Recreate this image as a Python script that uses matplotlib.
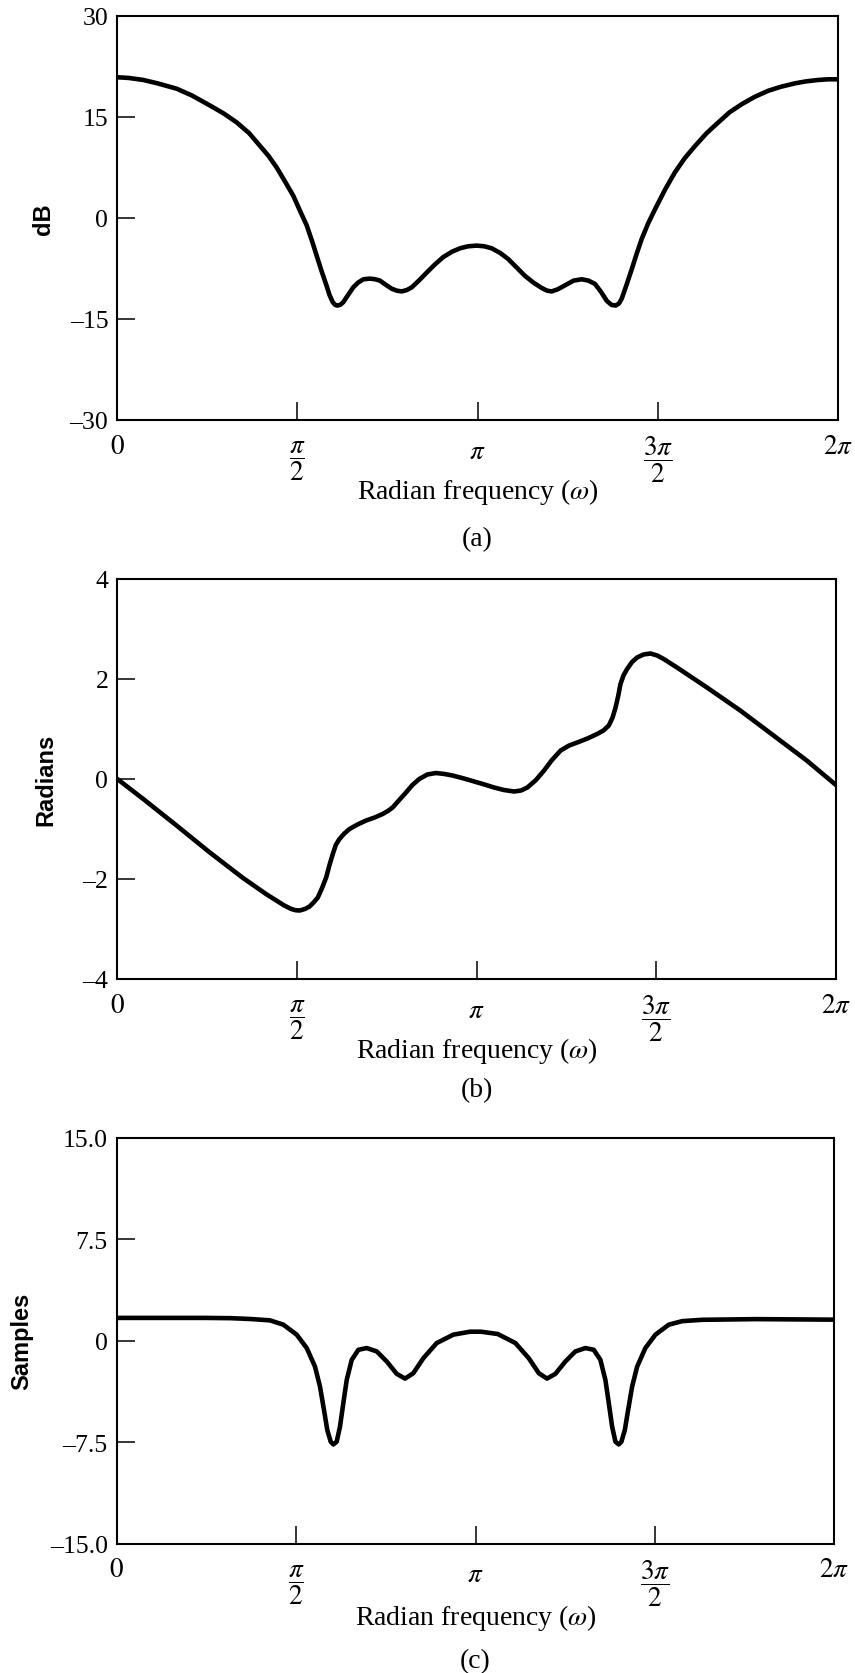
import numpy as np
import matplotlib.pyplot as plt
from matplotlib.transforms import ScaledTranslation

plt.rcParams["font.family"] = "Liberation Serif"
plt.rcParams["mathtext.fontset"] = "stix"

# (a) log magnitude, dB
W_A = [0.000, 0.100, 0.227, 0.350, 0.518, 0.650, 0.809, 0.930, 1.041, 1.150,
       1.245, 1.320, 1.390, 1.460, 1.535, 1.590, 1.652, 1.700, 1.739, 1.780,
       1.826, 1.850, 1.879, 1.900, 1.919, 1.945, 1.971, 2.010, 2.058, 2.100,
       2.146, 2.204, 2.250, 2.291, 2.340, 2.393, 2.440, 2.481, 2.525, 2.568,
       2.630, 2.699, 2.770, 2.843, 2.920, 2.989, 3.060, 3.135, 3.200, 3.266,
       3.340, 3.410, 3.480, 3.556, 3.630, 3.702, 3.750, 3.789, 3.840, 3.905,
       3.980, 4.051, 4.110, 4.167, 4.220, 4.269, 4.310, 4.347, 4.375, 4.399,
       4.440, 4.487, 4.530, 4.574, 4.630, 4.690, 4.780, 4.864, 4.950, 5.039,
       5.140, 5.242, 5.340, 5.446, 5.560, 5.678, 5.790, 5.911, 6.010, 6.114,
       6.200, 6.283]
DB_A = [20.9, 20.8, 20.5, 20.0, 19.2, 18.2, 16.7, 15.5, 14.2, 12.6,
        10.7, 9.2, 7.5, 5.5, 3.3, 1.2, -1.1, -3.5, -5.6, -7.8,
        -10.1, -11.4, -12.5, -12.9, -13.0, -12.9, -12.5, -11.5, -10.3, -9.6,
        -9.1, -9.0, -9.1, -9.3, -9.9, -10.5, -10.8, -10.9, -10.7, -10.3,
        -9.3, -8.1, -6.9, -5.8, -5.0, -4.5, -4.2, -4.1, -4.2, -4.5,
        -5.2, -6.1, -7.3, -8.6, -9.6, -10.4, -10.8, -10.9, -10.6, -10.0,
        -9.3, -9.1, -9.3, -9.8, -11.0, -12.3, -12.9, -13.0, -12.7, -12.0,
        -10.0, -7.6, -5.3, -3.1, -0.8, 1.3, 4.3, 6.8, 8.9, 10.7,
        12.6, 14.2, 15.7, 16.9, 18.0, 18.9, 19.5, 20.0, 20.3, 20.5,
        20.6, 20.6]

# (b) phase, radians
W_B = [0.000, 0.227, 0.518, 0.809, 1.099, 1.300, 1.390, 1.460, 1.521, 1.560,
       1.594, 1.640, 1.681, 1.720, 1.753, 1.790, 1.826, 1.855, 1.884, 1.910,
       1.942, 1.985, 2.030, 2.100, 2.175, 2.250, 2.320, 2.365, 2.407, 2.465,
       2.524, 2.580, 2.640, 2.710, 2.786, 2.860, 2.931, 3.030, 3.120, 3.210,
       3.294, 3.380, 3.469, 3.530, 3.585, 3.660, 3.731, 3.800, 3.876, 3.950,
       4.021, 4.110, 4.195, 4.250, 4.297, 4.330, 4.356, 4.380, 4.399, 4.425,
       4.457, 4.500, 4.544, 4.600, 4.661, 4.720, 4.777, 4.900, 5.155, 5.446,
       5.737, 6.027, 6.283]
PH_B = [0.00, -0.40, -0.93, -1.47, -1.98, -2.30, -2.43, -2.53, -2.60, -2.625,
        -2.63, -2.60, -2.55, -2.46, -2.37, -2.18, -1.97, -1.72, -1.50, -1.32,
        -1.20, -1.09, -1.00, -0.91, -0.83, -0.77, -0.70, -0.64, -0.57, -0.42,
        -0.27, -0.12, 0.00, 0.09, 0.12, 0.10, 0.07, 0.01, -0.05, -0.11,
        -0.17, -0.22, -0.25, -0.23, -0.17, -0.02, 0.17, 0.38, 0.57, 0.67,
        0.73, 0.81, 0.90, 0.97, 1.07, 1.23, 1.43, 1.67, 1.90, 2.07,
        2.20, 2.34, 2.43, 2.49, 2.51, 2.47, 2.40, 2.22, 1.83, 1.37,
        0.87, 0.37, -0.12]

# (c) group delay, samples
W_C = [0.000, 0.773, 1.000, 1.167, 1.342, 1.459, 1.576, 1.664, 1.736, 1.780,
       1.815, 1.844, 1.874, 1.897, 1.926, 1.955, 1.984, 2.014, 2.058, 2.116,
       2.189, 2.277, 2.364, 2.452, 2.525, 2.597, 2.685, 2.802, 2.947, 3.094,
       3.189, 3.336, 3.491, 3.608, 3.696, 3.768, 3.841, 3.929, 4.016, 4.104,
       4.177, 4.235, 4.279, 4.309, 4.338, 4.367, 4.396, 4.419, 4.449, 4.478,
       4.513, 4.557, 4.629, 4.717, 4.834, 4.951, 5.126, 5.600, 6.283]
GD_C = [1.69, 1.69, 1.67, 1.61, 1.51, 1.19, 0.45, -0.54, -1.91, -3.39,
        -5.12, -6.61, -7.47, -7.67, -7.47, -6.36, -4.63, -2.90, -1.41, -0.67,
        -0.54, -0.79, -1.53, -2.45, -2.80, -2.40, -1.29, -0.17, 0.45, 0.67,
        0.67, 0.50, -0.17, -1.29, -2.40, -2.80, -2.45, -1.53, -0.79, -0.54,
        -0.67, -1.41, -2.90, -4.63, -6.36, -7.47, -7.67, -7.47, -6.61, -5.12,
        -3.39, -1.91, -0.54, 0.45, 1.19, 1.45, 1.55, 1.60, 1.56]

XTICKS = [0, np.pi / 2, np.pi, 3 * np.pi / 2, 2 * np.pi]
XTICK_LABELS = [r"$0$", r"$\dfrac{\pi}{2}$", r"$\pi$", r"$\dfrac{3\pi}{2}$", r"$2\pi$"]
XTICK_DROP = [14, 19, 19, 14, 14]  # px below axis, tops of the glyphs

YTICKS_A = [-30, -15, 0, 15, 30]
YLABELS_A = ["\u201330", "\u201315", "0", "15", "30"]
YTICKS_B = [-4, -2, 0, 2, 4]
YLABELS_B = ["\u20134", "\u20132", "0", "2", "4"]
YTICKS_C = [-15, -7.5, 0, 7.5, 15]
YLABELS_C = ["\u201315.0", "\u20137.5", "0", "7.5", "15.0"]

FIG_W, FIG_H, DPI = 855, 1674, 100


def px_rect(l, t, r, b):
    return [l / FIG_W, 1 - b / FIG_H, (r - l) / FIG_W, (b - t) / FIG_H]


fig = plt.figure(figsize=(FIG_W / DPI, FIG_H / DPI), dpi=DPI)

panels = [
    (px_rect(117.3, 17, 837.7, 421), W_A, DB_A, YTICKS_A, YLABELS_A, "dB", 55, 71, 119, "(a)"),
    (px_rect(117.3, 580, 836.0, 980), W_B, PH_B, YTICKS_B, YLABELS_B, "Radians", 57, 71, 111, "(b)"),
    (px_rect(116.7, 1139, 834.3, 1544.5), W_C, GD_C, YTICKS_C, YLABELS_C, "Samples", 33, 74, 117, "(c)"),
]

for rect, w, v, yt, yl, ylab, ylab_right, xlab_drop, cap_drop, cap in panels:
    ax = fig.add_axes(rect)
    ax.plot(w, v, color="black", lw=3.3, solid_joinstyle="round")
    ax.set_xlim(0, 2 * np.pi)
    ax.set_ylim(yt[0], yt[-1])

    ax.set_yticks(yt)
    ax.set_yticklabels(yl)
    ax.set_xticks(XTICKS)
    ax.set_xticklabels([])
    ax.tick_params(axis="both", direction="in", length=13, width=1.1,
                   top=False, right=False)
    ax.tick_params(axis="y", labelsize=18.5, pad=6.5)
    for s in ax.spines.values():
        s.set_linewidth(1.5)

    # x tick labels drawn by hand so the fractions line up like the original
    for x, lab, drop in zip(XTICKS, XTICK_LABELS, XTICK_DROP):
        tr = ax.get_xaxis_transform() + ScaledTranslation(0, -drop / DPI, fig.dpi_scale_trans)
        ax.text(x, 0, lab, transform=tr, ha="center", va="top", fontsize=19.5)

    ax_w_px = rect[2] * FIG_W
    ax_h_px = rect[3] * FIG_H
    ax.set_ylabel(ylab, fontfamily="Liberation Sans", fontweight="bold", fontsize=17)
    ax.yaxis.set_label_coords((ylab_right - rect[0] * FIG_W) / ax_w_px, 0.5)

    ax.set_xlabel(r"Radian frequency ($\omega$)", fontsize=20)
    ax.xaxis.set_label_coords(0.5, -xlab_drop / ax_h_px)
    ax.xaxis.label.set_va("center")

    ax.text(0.5, -cap_drop / ax_h_px, cap, transform=ax.transAxes,
            ha="center", va="center", fontsize=20)

fig.savefig("out.png", dpi=DPI)
